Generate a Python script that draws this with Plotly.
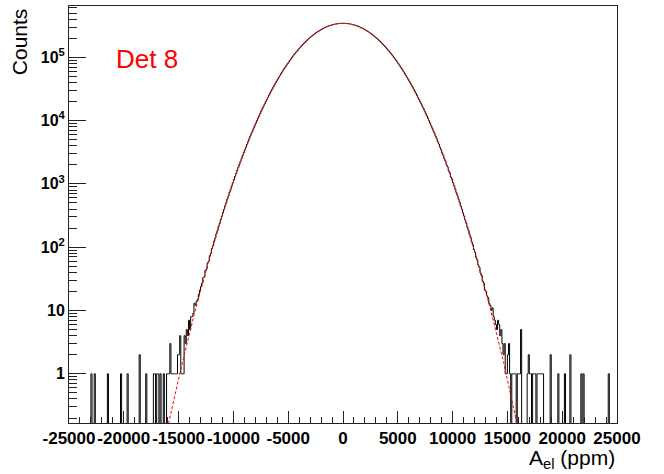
import numpy as np
import plotly.graph_objects as go

# ---------------- data ----------------
bin_low = -25000.0
bin_high = 25000.0

# counts per 100 ppm bin, from -25000 to 25000 (500 bins)
counts = [
    # -25000 .. -13000
    0, 0, 0, 0, 0, 0, 0, 0, 0, 0,
    0, 0, 0, 0, 0, 0, 0, 0, 0, 0,
    1, 0, 0, 1, 0, 0, 0, 0, 0, 0,
    0, 0, 0, 0, 0, 1, 0, 0, 0, 0,
    0, 0, 0, 0, 0, 0, 0, 1, 0, 0,
    0, 0, 0, 1, 0, 0, 0, 0, 0, 0,
    0, 0, 0, 0, 2, 0, 0, 0, 0, 0,
    1, 0, 0, 0, 0, 0, 0, 1, 1, 0,
    1, 1, 0, 1, 0, 0, 1, 0, 0, 1,
    1, 1, 3, 1, 1, 1, 1, 1, 1, 2,
    2, 4, 1, 1, 1, 4, 3, 5, 4, 7,
    5, 8, 8, 9, 13, 12, 14, 15, 18, 21,
    # -13000 .. 0
    24, 27, 33, 34, 43, 45, 56, 60, 73, 80,
    96, 106, 125, 139, 163, 182, 212, 237, 274, 307,
    352, 395, 451, 506, 576, 646, 733, 820, 927, 1035,
    1168, 1305, 1460, 1633, 1823, 2033, 2265, 2521, 2802, 3111,
    3449, 3821, 4228, 4672, 5157, 5685, 6265, 6890, 7570, 8310,
    9110, 9975, 10910, 11920, 13010, 14180, 15440, 16790, 18240, 19790,
    21440, 23210, 25100, 27110, 29250, 31510, 33920, 36470, 39160, 42000,
    44990, 48150, 51470, 54950, 58610, 62430, 66430, 70610, 74960, 79480,
    84190, 89060, 94110, 99320, 104710, 110260, 115980, 121850, 127880, 134040,
    140350, 146780, 153330, 159980, 166750, 173600, 180530, 187500, 194530, 201580,
    208650, 215720, 222770, 229780, 236750, 243650, 250460, 257170, 263760, 270200,
    276480, 282590, 288490, 294190, 299650, 304860, 309800, 314460, 318830, 322890,
    326620, 330020, 333060, 335760, 338080, 340030, 341590, 342770, 343560, 343950,
    # 0 .. 13000
    343920, 343590, 342740, 341620, 340000, 338110, 335730, 333090, 329990, 326650,
    322860, 318860, 314430, 309830, 304830, 299680, 294160, 288520, 282560, 276510,
    270170, 263790, 257140, 250490, 243620, 236780, 229750, 222800, 215690, 208680,
    201550, 194560, 187470, 180560, 173570, 166780, 159950, 153360, 146750, 140380,
    134010, 127910, 121820, 116010, 110230, 104740, 99290, 94140, 89030, 84220,
    79450, 74990, 70580, 66460, 62400, 58640, 54920, 51500, 48120, 45020,
    41970, 39190, 36440, 33950, 31480, 29280, 27080, 25130, 23180, 21470,
    19760, 18270, 16760, 15470, 14150, 13040, 11890, 10940, 9945, 9140,
    8280, 7600, 6860, 6295, 5655, 5187, 4642, 4258, 3791, 3479,
    3081, 2832, 2491, 2295, 2003, 1853, 1603, 1490, 1275, 1195,
    1041, 922, 825, 728, 650, 571, 511, 447, 399, 348,
    311, 269, 241, 207, 186, 159, 143, 121, 109, 92,
    83, 69, 63, 52, 48, 39, 36, 29, 27, 21,
    # 13000 .. 25000
    20, 17, 16, 13, 12, 10, 11, 8, 7, 6,
    5, 7, 6, 4, 5, 3, 2, 3, 1, 1,
    2, 3, 1, 0, 1, 1, 1, 1, 0, 1,
    1, 1, 5, 0, 0, 0, 0, 0, 1, 2,
    1, 1, 0, 1, 1, 1, 0, 1, 1, 1,
    1, 1, 1, 0, 0, 0, 0, 0, 0, 2,
    0, 0, 0, 0, 0, 0, 1, 0, 0, 0,
    0, 0, 1, 0, 0, 0, 0, 2, 0, 0,
    0, 0, 0, 0, 0, 0, 0, 1, 0, 1,
    0, 0, 0, 0, 0, 0, 0, 0, 0, 0,
    0, 0, 0, 0, 0, 0, 0, 0, 0, 0,
    0, 0, 1, 0, 0, 0, 0, 0, 0, 0,
]

# Gaussian fit parameters
fit_const = 3.44e5
fit_mean = 0.0
fit_sigma = 2950.0

x_tick_vals = [-25000, -20000, -15000, -10000, -5000, 0, 5000, 10000, 15000, 20000, 25000]
x_tick_text = ["-25000", "-20000", "-15000", "-10000", "-5000", "0",
               "5000", "10000", "15000", "20000", "25000"]
y_tick_vals = [1, 10, 100, 1000, 10000, 100000]
y_tick_text = ["1", "10", "10<sup>2</sup>", "10<sup>3</sup>", "10<sup>4</sup>", "10<sup>5</sup>"]

y_min = 0.167
y_max = 6.45e5

# ---------------- derived ----------------
counts = np.array(counts, dtype=float)
nb = len(counts)
edges = np.linspace(bin_low, bin_high, nb + 1)
centers = 0.5 * (edges[:-1] + edges[1:])
draw_counts = np.where(counts > 0, counts, 1e-3)  # empty bins drop to the frame bottom

fx = np.linspace(bin_low, bin_high, 2001)
fy = fit_const * np.exp(-0.5 * ((fx - fit_mean) / fit_sigma) ** 2)
fy = np.maximum(fy, 1e-6)

minor_y = [m * 10.0 ** e for e in range(-1, 6) for m in range(2, 10)]
minor_y = [v for v in minor_y if y_min <= v <= y_max]

font_family = "Liberation Sans, Arial, Helvetica, sans-serif"

fig = go.Figure()
fig.add_trace(go.Scatter(
    x=centers, y=draw_counts, mode="lines", line_shape="hvh",
    line=dict(color="black", width=1), showlegend=False, hoverinfo="skip"))
fig.add_trace(go.Scatter(
    x=fx, y=fy, mode="lines",
    line=dict(color="#ff0000", width=1, dash="3px,2px"), showlegend=False, hoverinfo="skip"))

fig.update_layout(
    width=664, height=474,
    margin=dict(l=69, r=47, t=6, b=51),
    paper_bgcolor="white", plot_bgcolor="white",
    font=dict(family=font_family, color="black"),
)
fig.update_xaxes(
    range=[bin_low, bin_high], showgrid=False, zeroline=False,
    showline=True, linecolor="#222", linewidth=1, mirror=True,
    ticks="inside", ticklen=12, tickwidth=1, tickcolor="#222",
    tickmode="array", tickvals=x_tick_vals, ticktext=x_tick_text, tickangle=0,
    tickfont=dict(size=17, family=font_family, weight="bold"),
    minor=dict(ticks="inside", ticklen=6, tickwidth=1, tickcolor="#222", dtick=1000, showgrid=False),
)
fig.update_yaxes(
    type="log", range=[np.log10(y_min), np.log10(y_max)], showgrid=False, zeroline=False,
    showline=True, linecolor="#222", linewidth=1, mirror=True,
    ticks="inside", ticklen=17, tickwidth=1, tickcolor="#222",
    tickmode="array", tickvals=y_tick_vals, ticktext=y_tick_text,
    tickfont=dict(size=16, family=font_family, weight="bold"),
    minor=dict(ticks="inside", ticklen=8, tickwidth=1, tickcolor="#222",
               tickmode="array", tickvals=minor_y, showgrid=False),
)

fig.add_annotation(text="Counts", xref="paper", yref="paper", x=-0.09, y=1.0,
                   xanchor="center", yanchor="top", textangle=-90, showarrow=False,
                   font=dict(size=21, family=font_family, color="black"))
fig.add_annotation(text="A<sub>el</sub> (ppm)", xref="paper", yref="paper", x=1.0, y=-0.05,
                   xanchor="right", yanchor="top", showarrow=False,
                   font=dict(size=21, family=font_family, color="black"))
fig.add_annotation(text="Det 8", xref="paper", yref="paper", x=0.083, y=0.874,
                   xanchor="left", yanchor="middle", showarrow=False,
                   font=dict(size=26, family=font_family, color="#ff0000"))

fig.write_html("out.html")
